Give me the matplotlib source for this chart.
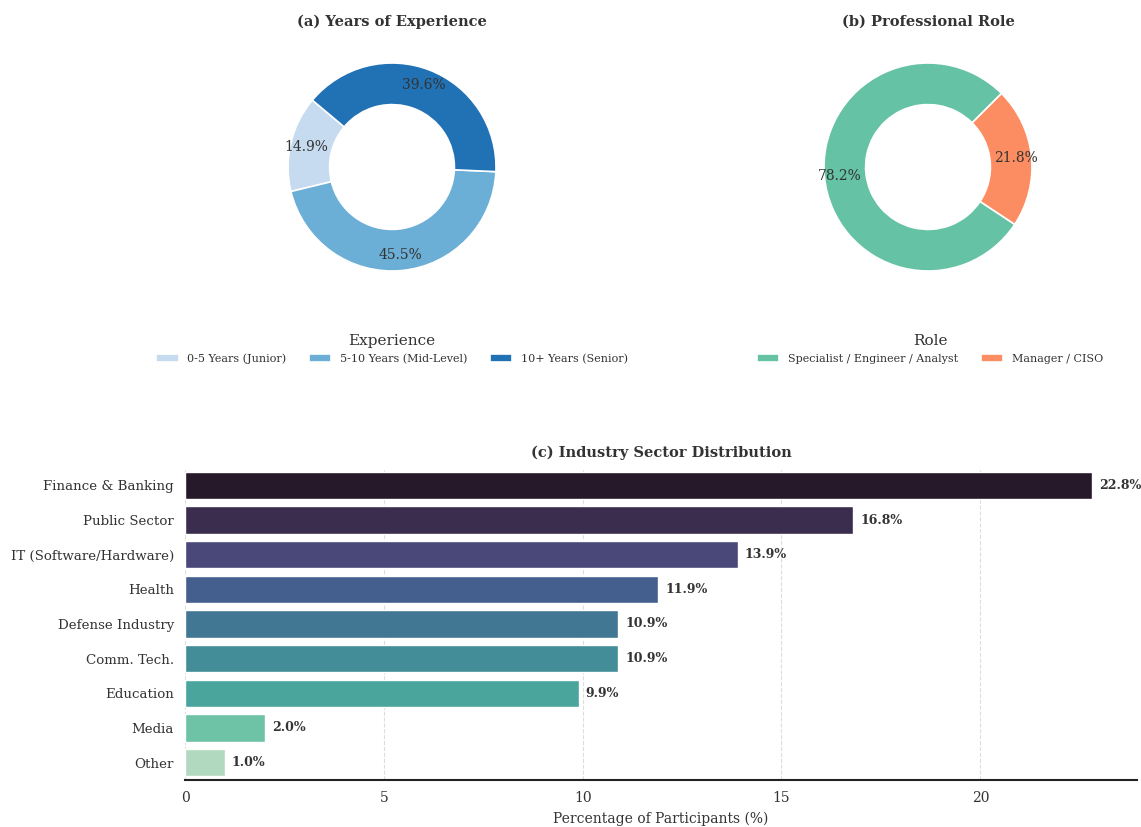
import matplotlib.pyplot as plt

plt.rcParams['font.family'] = 'DejaVu Serif'
plt.rcParams['text.color'] = '#333333'

# experience donut
exp_labels = ['0-5 Years (Junior)', '5-10 Years (Mid-Level)', '10+ Years (Senior)']
exp_values = [14.9, 45.5, 39.6]
exp_colors = ['#c6dbef', '#6baed6', '#2171b5']

# role donut
role_labels = ['Specialist / Engineer / Analyst', 'Manager / CISO']
role_values = [78.2, 21.8]
role_colors = ['#66c2a5', '#fc8d62']

# industry bars
sectors = ['Finance & Banking', 'Public Sector', 'IT (Software/Hardware)', 'Health',
           'Defense Industry', 'Comm. Tech.', 'Education', 'Media', 'Other']
sector_pct = [22.8, 16.8, 13.9, 11.9, 10.9, 10.9, 9.9, 2.0, 1.0]
sector_colors = ['#261a2a', '#3b2d4e', '#4a4878', '#445f8d', '#427793',
                 '#438d98', '#4aa59c', '#6ec3a7', '#b1d9bf']

W, H = 1141, 827
fig = plt.figure(figsize=(W / 100, H / 100), dpi=100)


def px_axes(x0, y0, x1, y1):
    return fig.add_axes([x0 / W, 1 - y1 / H, (x1 - x0) / W, (y1 - y0) / H])


def donut(ax, values, colors, labels, start, title, legend_title, cx):
    ax.pie(values, colors=colors, startangle=start, autopct='%1.1f%%',
           pctdistance=0.85, wedgeprops=dict(width=0.4, edgecolor='white', linewidth=1.2),
           textprops=dict(fontsize=10, color='#333333'))
    ax.set_title(title, fontsize=10.5, fontweight='bold', pad=8, color='#333333')
    ax.legend(labels, title=legend_title, loc='upper center', ncol=len(labels),
              frameon=False, fontsize=8, title_fontsize=11,
              bbox_to_anchor=(cx / W, 1 - 324 / H), bbox_transform=fig.transFigure,
              handlelength=2, columnspacing=2)


ax1 = px_axes(262, 37, 522, 297)
donut(ax1, exp_values, exp_colors, exp_labels, 140,
      '(a) Years of Experience', 'Experience', 392)

ax2 = px_axes(798, 37, 1058, 297)
donut(ax2, role_values, role_colors, role_labels, 45,
      '(b) Professional Role', 'Role', 930)

ax3 = px_axes(185, 468, 1137, 780)
y = list(range(len(sectors)))
ax3.barh(y, sector_pct, height=0.78, color=sector_colors, edgecolor='white', linewidth=1)
for yi, v in zip(y, sector_pct):
    ax3.text(v + 0.18, yi, f'{v:.1f}%', va='center', ha='left',
             fontsize=9, fontweight='bold', color='#333333')
ax3.set_yticks(y)
ax3.set_yticklabels(sectors)
ax3.set_ylim(len(sectors) - 0.5, -0.5)
ax3.set_xlim(0, 23.94)
ax3.set_xticks([0, 5, 10, 15, 20])
ax3.tick_params(axis='both', length=0, labelsize=10, colors='#333333', pad=8)
ax3.tick_params(axis='y', labelsize=9.6)
ax3.grid(axis='x', linestyle='--', color='#dddddd', linewidth=0.8)
ax3.set_axisbelow(True)
for s in ['top', 'right', 'left']:
    ax3.spines[s].set_visible(False)
ax3.spines['bottom'].set_color('#222222')
ax3.spines['bottom'].set_linewidth(1.5)
ax3.set_xlabel('Percentage of Participants (%)', fontsize=10, color='#333333', labelpad=5)
ax3.set_title('(c) Industry Sector Distribution', fontsize=10.5, fontweight='bold',
              pad=8, color='#333333')

fig.savefig('out.png', dpi=100, facecolor='white')
